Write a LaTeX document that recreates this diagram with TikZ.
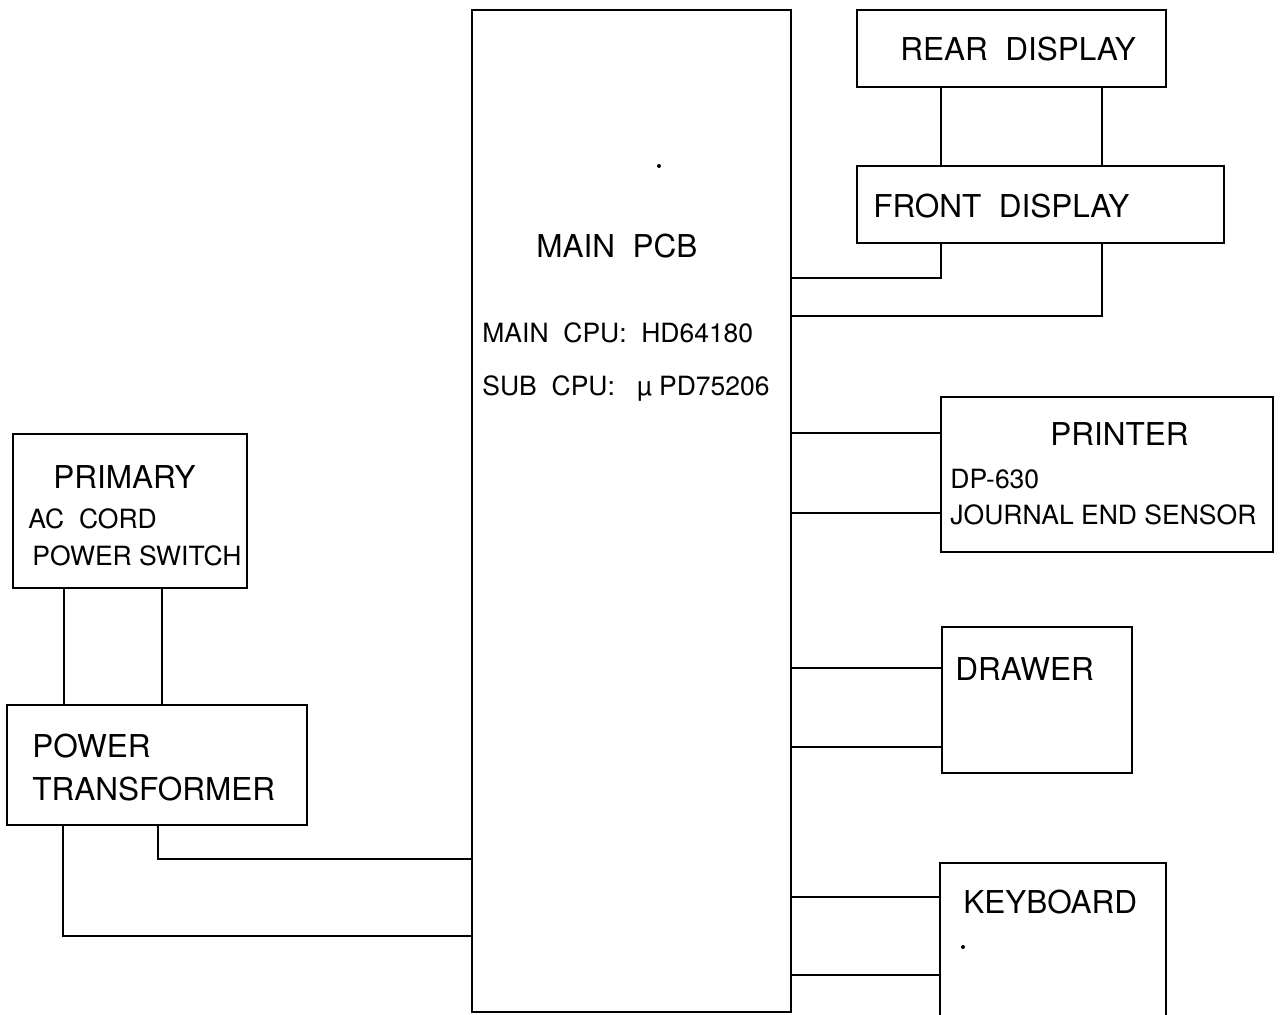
\documentclass[tikz,border=0pt]{standalone}
\usepackage{fontspec}
\setmainfont{TeX Gyre Heros}
\usetikzlibrary{calc}

\tikzset{
  blk/.style 2 args={draw, line width=1pt, anchor=north west, inner sep=0pt,
    outer sep=0pt, minimum width=#1*0.5pt, minimum height=#2*0.5pt},
  big/.style={anchor=base west, inner sep=0pt, font=\fontsize{15.75}{18}\selectfont},
  sml/.style={anchor=base west, inner sep=0pt, font=\fontsize{13.25}{16}\selectfont},
  wire/.style={line width=1pt}
}

\begin{document}
\begin{tikzpicture}[x=0.5pt, y=-0.5pt]
    \clip (0,0) rectangle (1281,1014);

    % blocks
    \node[blk={319}{1002}] (pcb) at (472,10) {};
    \node[blk={309}{77}] (rear) at (857,10) {};
    \node[blk={367}{77}] (front) at (857,166) {};
    \node[blk={332}{155}] (printer) at (941,397) {};
    \node[blk={190}{146}] (drawer) at (942,627) {};
    \node[blk={226}{160}] (keyboard) at (940,863) {};
    \node[blk={234}{154}] (primary) at (13,434) {};
    \node[blk={300}{120}] (trafo) at (7,705) {};

    % texts
    \node[big] (reartxt) at (900,60) {REAR\ \ DISPLAY};
    \node[big] (fronttxt) at (873,217) {FRONT\ \ DISPLAY};
    \node[big] (pcbtxt) at (536,257) {MAIN\ \ PCB};
    \node[sml] (maincpu) at (482,342) {MAIN\ \ CPU:\hspace{0.55em}HD64180};
    \node[sml] (subcpu) at (482,395) {SUB\ \ CPU:\ \ \ µ PD75206};
    \node[big] (printertxt) at (1050,445) {PRINTER};
    \node[sml] (dptxt) at (950,488) {DP-630};
    \node[sml] (jrntxt) at (950,524) {JOURNAL END SENSOR};
    \node[big] (drawertxt) at (955,680) {DRAWER};
    \node[big] (kbtxt) at (963,913) {KEYBOARD};
    \node[big] (primtxt) at (53,488) {PRIMARY};
    \node[sml] (actxt) at (28,528) {AC\ \ CORD};
    \node[sml] (swtxt) at (32,565) {POWER SWITCH};
    \node[big] (pwrtxt) at (32,757) {POWER};
    \node[big] (trftxt) at (32,800) {TRANSFORMER};

    % specks
    \fill (659,166) circle (2);
    \fill (963,947) circle (2);

    % displays
    \coordinate (dl) at (941,0);
    \coordinate (dr) at (1102,0);
    \draw[wire] (rear.south -| dl) -- (front.north -| dl);
    \draw[wire] (rear.south -| dr) -- (front.north -| dr);
    \draw[wire] (front.south -| dl) |- (pcb.east |- 0,278);
    \draw[wire] (front.south -| dr) |- (pcb.east |- 0,316);

    % printer, drawer, keyboard
    \foreach \b/\h in {printer/433, printer/513, drawer/668, drawer/747, keyboard/897, keyboard/975}
        \draw[wire] (pcb.east |- 0,\h) -- (\b.west |- 0,\h);

    % power
    \draw[wire] (primary.south -| 64,0) -- (trafo.north -| 64,0);
    \draw[wire] (primary.south -| 162,0) -- (trafo.north -| 162,0);
    \draw[wire] (trafo.south -| 158,0) |- (pcb.west |- 0,859);
    \draw[wire] (trafo.south -| 63,0) |- (pcb.west |- 0,936);
\end{tikzpicture}
\end{document}
